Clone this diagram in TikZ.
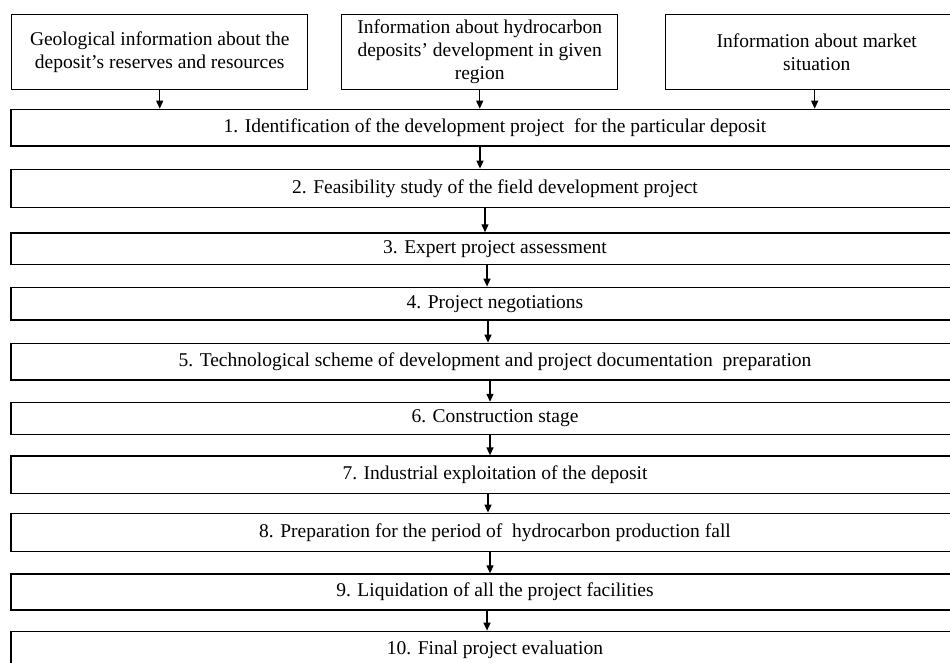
\documentclass[tikz,border=0pt]{standalone}
\usepackage{fontspec}
\setmainfont{Liberation Serif}
\usetikzlibrary{arrows.meta}
\begin{document}
\begin{tikzpicture}[x=1pt,y=-1pt,
  every node/.style={font=\fontsize{19.5}{23}\selectfont},
  infobox/.style={draw=black,line width=1.4pt,align=center,inner sep=0pt,anchor=north west},
  stagebox/.style={draw=black,line width=1.4pt,align=center,inner sep=0pt,minimum width=968pt},
  arr/.style={line width=1.3pt,-{Triangle[length=8pt,width=7pt]}}]
\useasboundingbox (0,0) rectangle (950,662);

% source information boxes
\node[infobox,minimum width=296pt,minimum height=75pt] (a) at (11,14)
  {Geological information about the\\deposit’s reserves and resources};
\node[infobox,minimum width=276pt,minimum height=75pt] (b) at (341,14)
  {Information about hydrocarbon\\deposits’ development in given\\region};
\node[infobox,minimum width=302pt,minimum height=75pt] (c) at (665,14)
  {Information about market\\situation};

% project life-cycle stages
\node[stagebox,minimum height=36.7pt] (s1) at (495,127.7)
  {1. Identification of the development project~ for the particular deposit};
\node[stagebox,minimum height=38pt] (s2) at (495,188.3)
  {2. Feasibility study of the field development project};
\node[stagebox,minimum height=31.5pt] (s3) at (495,248.7)
  {3. Expert project assessment};
\node[stagebox,minimum height=32.7pt] (s4) at (495,303.7)
  {4. Project negotiations};
\node[stagebox,minimum height=36.7pt] (s5) at (495,361.7)
  {5. Technological scheme of development and project documentation~ preparation};
\node[stagebox,minimum height=32pt] (s6) at (495,418.5)
  {6. Construction stage};
\node[stagebox,minimum height=37.3pt] (s7) at (495,474.7)
  {7. Industrial exploitation of the deposit};
\node[stagebox,minimum height=38pt] (s8) at (495,532.3)
  {8. Preparation for the period of~ hydrocarbon production fall};
\node[stagebox,minimum height=36pt] (s9) at (495,592)
  {9. Liquidation of all the project facilities};
\node[stagebox,minimum height=36.7pt] (s10) at (495,649.7)
  {10. Final project evaluation};

% inputs into the first stage
\draw[arr] (a.south) -- (a.south |- s1.north);
\draw[arr] (b.south) -- (b.south |- s1.north);
\draw[arr] ([xshift=-2pt]c.south) -- ([xshift=-2pt]c.south |- s1.north);

% stage sequence
\draw[arr] ([xshift=-15pt]s1.south) -- ([xshift=-15pt]s2.north);
\draw[arr] ([xshift=-10pt]s2.south) -- ([xshift=-10pt]s3.north);
\draw[arr] ([xshift=-8pt]s3.south) -- ([xshift=-8pt]s4.north);
\draw[arr] ([xshift=-7pt]s4.south) -- ([xshift=-7pt]s5.north);
\draw[arr] ([xshift=-5pt]s5.south) -- ([xshift=-5pt]s6.north);
\draw[arr] ([xshift=-5pt]s6.south) -- ([xshift=-5pt]s7.north);
\draw[arr] ([xshift=-7pt]s7.south) -- ([xshift=-7pt]s8.north);
\draw[arr] ([xshift=-5pt]s8.south) -- ([xshift=-5pt]s9.north);
\draw[arr] ([xshift=-8pt]s9.south) -- ([xshift=-8pt]s10.north);
\end{tikzpicture}
\end{document}
